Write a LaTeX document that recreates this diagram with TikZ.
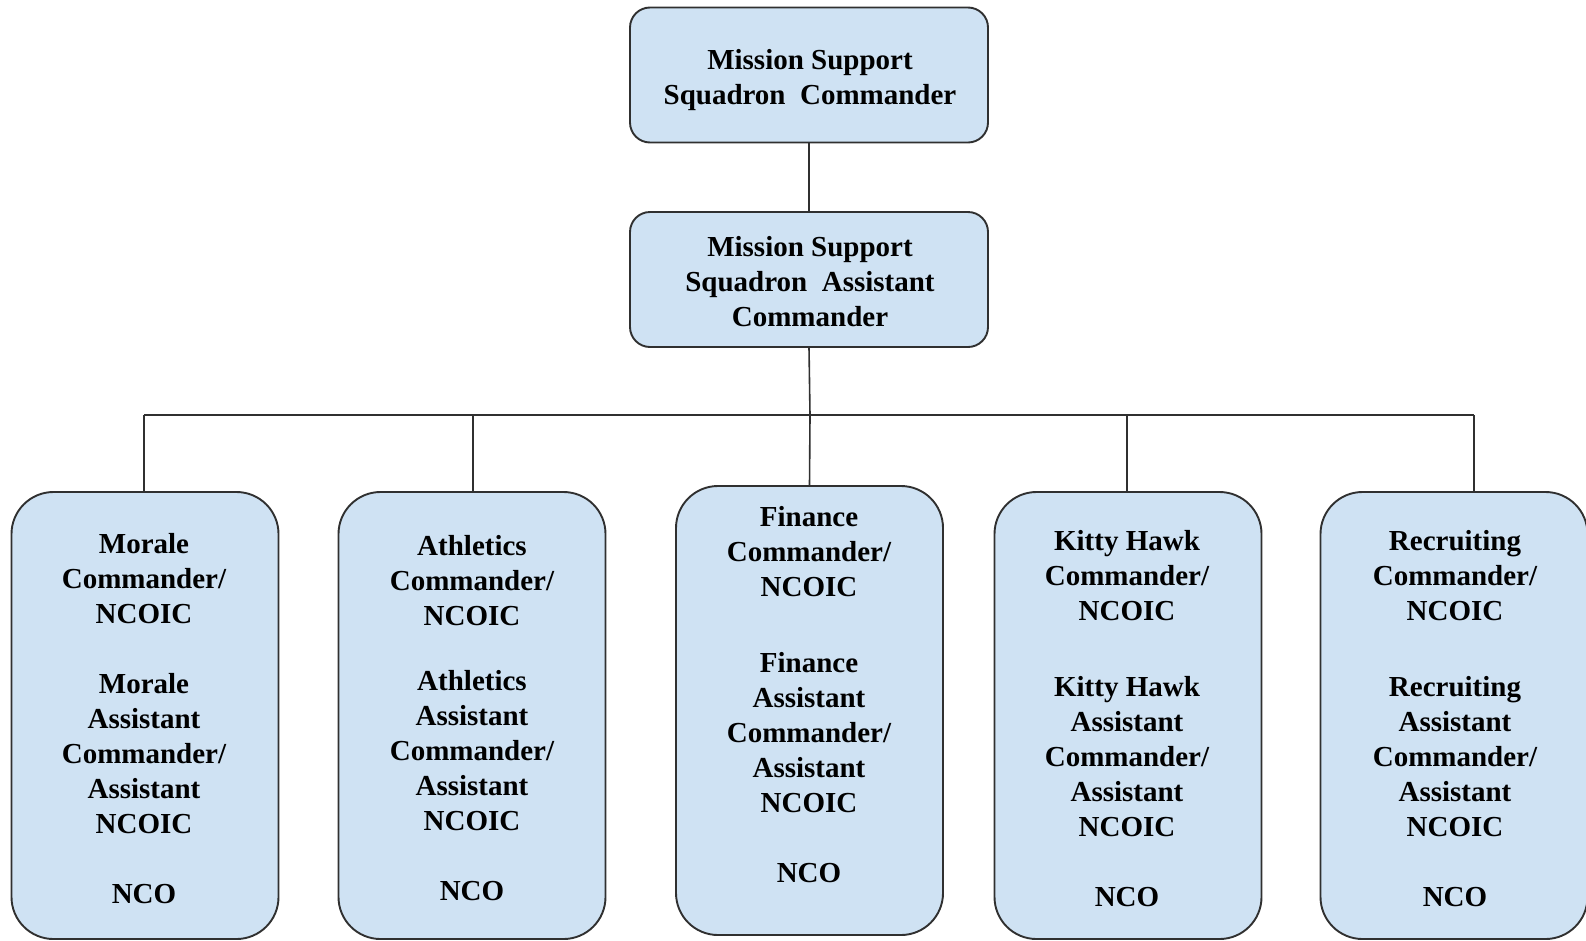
\documentclass[tikz,border=0pt]{standalone}
\usepackage{fontspec}
\setmainfont{Liberation Serif}
\definecolor{boxfill}{HTML}{CFE2F3}
\definecolor{edge}{HTML}{303030}
\begin{document}
\begin{tikzpicture}[x=1pt,y=-1pt,
  box/.style={draw=edge, line width=1.9pt, fill=boxfill, inner sep=0pt},
  headbox/.style={box, rounded corners=20pt, minimum width=358pt, minimum height=135pt},
  unitbox/.style={box, rounded corners=42pt, minimum width=267pt, minimum height=447pt},
  label/.style={align=center, inner sep=0pt, text=black,
    font=\fontsize{29}{35}\selectfont\bfseries},
  link/.style={draw=edge, line width=1.6pt}]
\useasboundingbox (0,0) rectangle (1586,940);

% boxes
\node[headbox] (cmd)  at (809,75) {};
\node[headbox] (asst) at (809,279.5) {};
\node[unitbox] (morale)    at (145,715.5) {};
\node[unitbox] (athletics) at (472,715.5) {};
\node[unitbox, minimum height=449pt] (finance) at (809.5,710.5) {};
\node[unitbox] (kitty)     at (1128,715.5) {};
\node[unitbox] (recruit)   at (1454,715.5) {};

% bus line under the assistant commander
\coordinate (busL) at (144,415);
\coordinate (busR) at (1474,415);
\coordinate (busM) at (810,415);
\coordinate (busA) at (473,415);
\coordinate (busK) at (1127,415);

\draw[link] (cmd.south) -- (asst.north);
\draw[link] (busL) -- (busR);
\draw[link] (asst.south) -- (busM) -- (finance.north);
\draw[link] (busL) -- (busL |- morale.north);
\draw[link] (busA) -- (busA |- athletics.north);
\draw[link] (busK) -- (busK |- kitty.north);
\draw[link] (busR) -- (busR |- recruit.north);

% texts
\node[label] (cmdT) at (810,80) {Mission Support\\Squadron~~Commander};
\node[label] (asstT) at (810,282) {Mission Support\\Squadron~~Assistant\\Commander};
\node[label] (moraleT) at (144,719) {Morale\\Commander/\\NCOIC\\[35pt]Morale\\Assistant\\Commander/\\Assistant\\NCOIC\\[35pt]NCO};
\node[label] (athleticsT) at (472,718.5) {Athletics\\Commander/\\NCOIC\\[30pt]Athletics\\Assistant\\Commander/\\Assistant\\NCOIC\\[35pt]NCO};
\node[label] (financeT) at (809,695) {Finance\\Commander/\\NCOIC\\[41pt]Finance\\Assistant\\Commander/\\Assistant\\NCOIC\\[35pt]NCO};
\node[label] (kittyT) at (1127,719) {Kitty Hawk\\Commander/\\NCOIC\\[41pt]Kitty Hawk\\Assistant\\Commander/\\Assistant\\NCOIC\\[35pt]NCO};
\node[label] (recruitT) at (1455,719) {Recruiting\\Commander/\\NCOIC\\[41pt]Recruiting\\Assistant\\Commander/\\Assistant\\NCOIC\\[35pt]NCO};
\end{tikzpicture}
\end{document}
